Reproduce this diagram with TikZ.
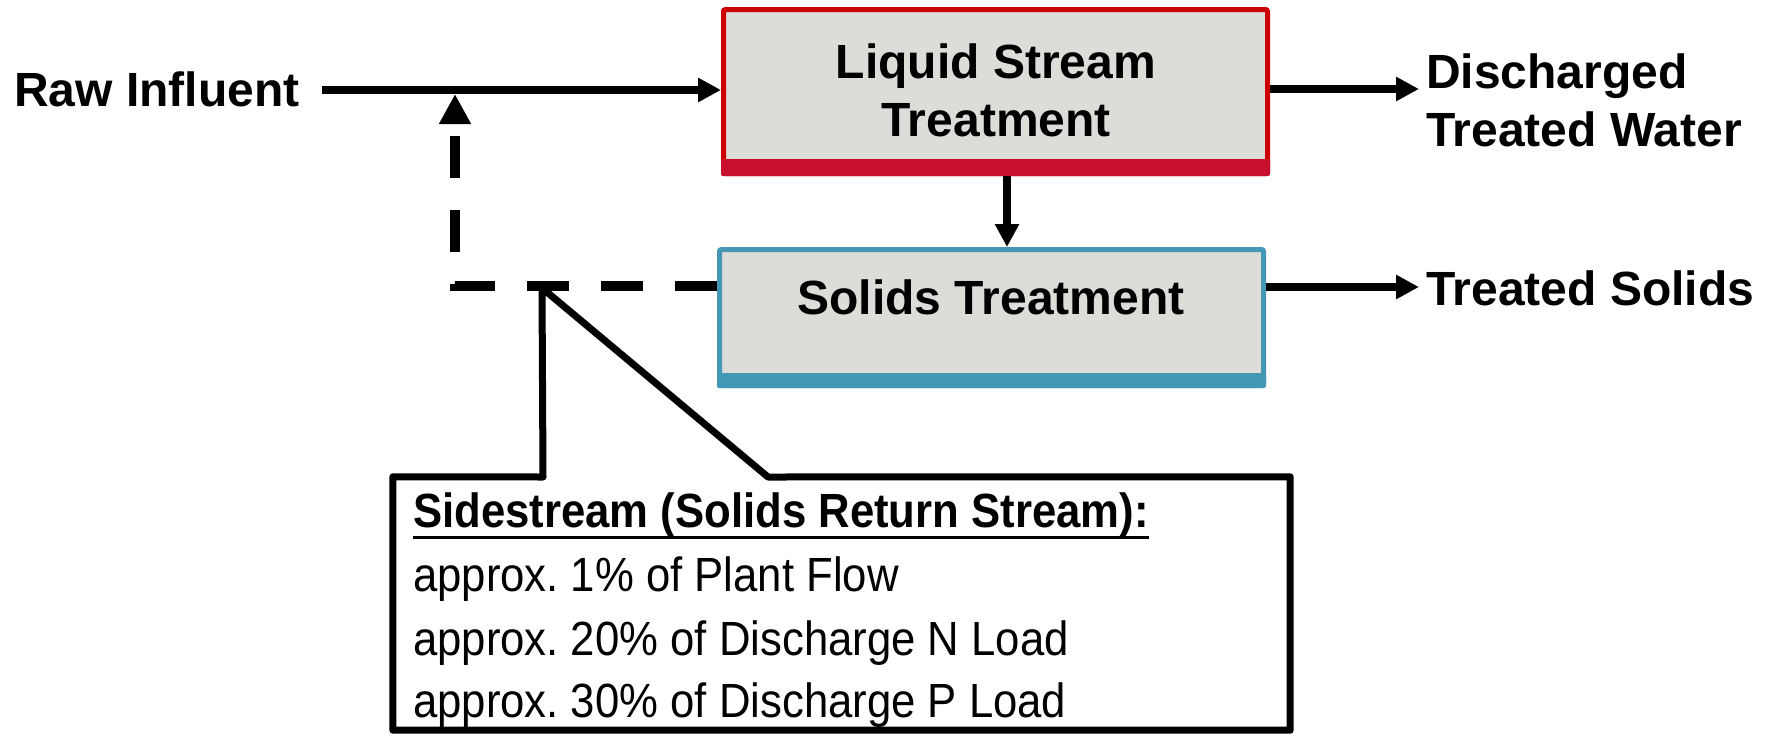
\documentclass[tikz,border=0pt]{standalone}
\usepackage{fontspec}
\setmainfont{Liberation Sans}
\newfontfamily\narrowfont[FakeStretch=0.91]{Liberation Sans}
\usetikzlibrary{arrows.meta,calc}
\definecolor{boxfill}{RGB}{220,220,216}
\definecolor{liqred}{RGB}{204,0,0}
\definecolor{liqband}{RGB}{200,16,46}
\definecolor{solblue}{RGB}{69,152,181}
\frenchspacing
\begin{document}
\begin{tikzpicture}[x=1pt,y=-1pt,
  flow/.style={line width=8pt,-{Triangle[length=23pt,width=23pt]}},
  retflow/.style={line width=10pt,dash pattern=on 42pt off 32pt,-{Triangle[length=30pt,width=30pt]}},
  procbox/.style={rectangle,fill=boxfill,line width=5pt,rounded corners=2pt,inner sep=0pt},
  lbl/.style={font=\fontsize{48}{58}\selectfont\bfseries,inner sep=0pt},
  note/.style={font=\narrowfont\fontsize{48}{58}\selectfont\frenchspacing,inner sep=0pt,anchor=base west},
  notehdr/.style={font=\narrowfont\fontsize{48}{58}\selectfont\bfseries\frenchspacing,inner sep=0pt,anchor=base west},
]
\useasboundingbox (0,0) rectangle (1773,734);

% process boxes
\node[procbox,draw=liqred,minimum width=544pt,minimum height=164pt] (liq) at (995.5,91.5) {};
\fill[liqband,rounded corners=2pt] (721,159) rectangle (1270,176);
\node[procbox,draw=solblue,minimum width=544pt,minimum height=136pt] (sol) at (991.5,317.5) {};
\fill[solblue,rounded corners=2pt] (717,373) rectangle (1266,388);

% labels (base anchor = baseline of last line)
\node[lbl,align=center,anchor=base] (liqtxt) at (996,136) {Liquid Stream\\Treatment};
\node[lbl,anchor=base] (soltxt) at (991,314) {Solids Treatment};
\node[lbl,anchor=base west] (raw) at (14,106) {Raw Influent};
\node[lbl,anchor=base west,align=left] (dis) at (1426,146) {Discharged\\Treated Water};
\node[lbl,anchor=base west] (ts) at (1426,305) {Treated Solids};

% flows
\coordinate (inA) at (322,90);
\coordinate (dwEnd) at (1419,89);
\coordinate (tsEnd) at (1419,287);
\coordinate (dn) at (1007,0);
\draw[flow] (inA) -- (inA -| liq.west);
\draw[flow] (dwEnd -| liq.east) -- (dwEnd);
\draw[flow] (tsEnd -| sol.east) -- (tsEnd);
\draw[flow] (dn |- liq.south) -- (dn |- sol.north);

% return stream
\coordinate (junc) at (455,286);
\coordinate (tap) at (455,94);
\draw[retflow] (junc -| sol.west) -- (junc) -- (tap);

% callout
\coordinate (ctip) at (542,288);
\node[minimum width=897pt,minimum height=253pt,inner sep=0pt] (call) at (841.5,603.5) {};
\draw[line width=7pt,line join=round] (call.north west) -- (543,477) -- (ctip) -- (768,477)
  -- (call.north east) -- (call.south east) -- (call.south west) -- cycle;

\node[notehdr] (hdr) at (413,527) {Sidestream (Solids Return Stream):};
\draw[line width=3pt] ([yshift=-10pt]hdr.base west) -- ([yshift=-10pt]hdr.base east);
\node[note] (l1) at (413,591) {approx. 1\% of Plant Flow};
\node[note] (l2) at (413,655) {approx. 20\% of Discharge N Load};
\node[note] (l3) at (413,717) {approx. 30\% of Discharge P Load};
\end{tikzpicture}
\end{document}
